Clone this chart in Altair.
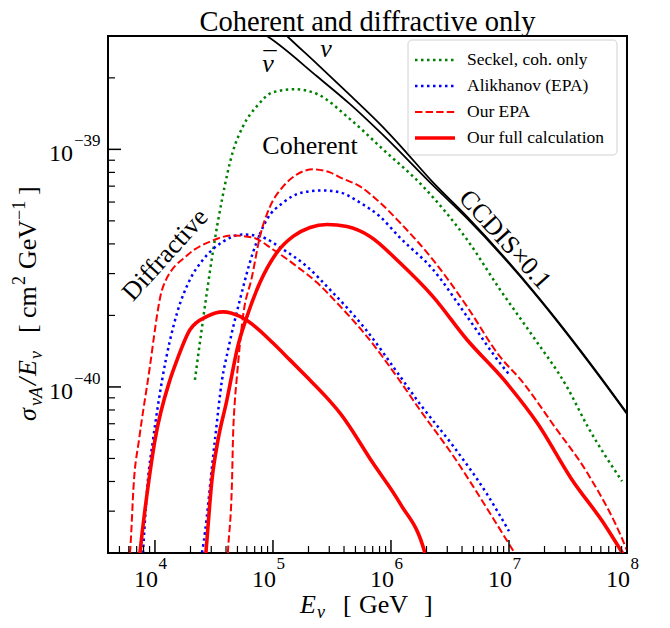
import altair as alt
import pandas as pd

W, H = 519, 517
SERIF = "Liberation Serif"

# ---------------- data (E in GeV, sigma/E in cm^2 GeV^-1) ----------------
ccdis_nu_E = [1.15e5, 1.315e5, 2.36e5, 4.50e5, 8.55e5, 1.19e6, 2.27e6, 4.41e6, 1.60e7, 5.90e7, 1.0e8]
ccdis_nu_s = [3.2e-39, 3.0e-39, 2.29e-39, 1.69e-39, 1.24e-39, 1.04e-39, 7.26e-40, 5.21e-40, 2.54e-40, 1.11e-40, 7.76e-41]

ccdis_nubar_E = [8.0e4, 8.89e4, 2.36e5, 4.50e5, 8.55e5, 2.27e6, 4.41e6, 1.60e7, 5.90e7, 1.0e8]
ccdis_nubar_s = [3.1e-39, 3.0e-39, 2.03e-39, 1.55e-39, 1.15e-39, 7.05e-40, 5.12e-40, 2.52e-40, 1.10e-40, 7.7e-41]

seckel_E = [2.18e4, 2.40e4, 2.76e4, 3.10e4, 3.70e4, 4.58e4, 5.57e4, 7.31e4, 1.0e5, 1.53e5, 2.36e5,
            4.50e5, 8.55e5, 1.87e6, 4.41e6, 8.39e6, 1.60e7, 3.10e7, 4.67e7, 9.08e7]
seckel_s = [1.07e-40, 1.53e-40, 2.52e-40, 3.72e-40, 6.15e-40, 9.81e-40, 1.25e-39, 1.52e-39, 1.74e-39, 1.79e-39,
            1.71e-39, 1.34e-39, 1.0e-39, 6.98e-40, 4.17e-40, 2.57e-40, 1.63e-40, 1.0e-40, 6.78e-41, 4.01e-41]

alik_diff_E = [7.91e3, 8.72e3, 9.62e3, 1.15e4, 1.54e4, 1.98e4, 2.55e4, 3.77e4, 5.57e4, 7.76e4, 1.22e5,
               1.94e5, 3.04e5, 6.26e5, 1.19e6, 1.76e6, 3.42e6, 6.51e6, 1.0e7]
alik_diff_s = [2.0e-41, 4.06e-41, 5.97e-41, 1.07e-40, 2.05e-40, 2.83e-40, 3.43e-40, 4.09e-40, 4.38e-40,
               4.30e-40, 3.79e-40, 3.21e-40, 2.57e-40, 1.72e-40, 1.11e-40, 8.48e-41, 5.58e-41, 3.54e-41, 2.47e-41]

alik_coh_E = [2.45e4, 2.5e4, 3.22e4, 3.70e4, 4.16e4, 5.25e4, 6.77e4, 8.89e4, 1.22e5, 1.79e5, 2.65e5,
              3.70e5, 5.46e5, 8.07e5, 1.19e6, 2.27e6, 4.41e6, 8.39e6, 1.0e7]
alik_coh_s = [1.9e-41, 2.0e-41, 5.97e-41, 1.07e-40, 1.43e-40, 2.33e-40, 3.68e-40, 5.07e-40, 5.97e-40, 6.59e-40,
              6.72e-40, 6.59e-40, 5.97e-40, 5.21e-40, 4.25e-40, 3.12e-40, 1.98e-40, 1.26e-40, 1.13e-40]

epa_diff_E = [6.0e3, 6.14e3, 6.64e3, 7.32e3, 8.72e3, 1.17e4, 1.91e4, 2.93e4, 4.58e4, 6.77e4, 1.0e5, 1.60e5,
              2.36e5, 3.48e5, 6.26e5, 1.19e6, 1.76e6, 3.42e6, 6.51e6, 1.15e7]
epa_diff_s = [1.8e-41, 2.0e-41, 4.06e-41, 5.97e-41, 1.07e-40, 2.64e-40, 3.61e-40, 4.09e-40, 4.34e-40, 4.25e-40,
              3.79e-40, 3.21e-40, 2.75e-40, 2.26e-40, 1.63e-40, 1.06e-40, 8.0e-41, 5.07e-41, 3.08e-41, 1.95e-41]

epa_coh_E = [4.1e4, 4.16e4, 4.50e4, 4.58e4, 4.76e4, 4.92e4, 5.57e4, 6.64e4, 7.76e4, 9.44e4, 1.22e5, 1.60e5,
             2.18e5, 3.04e5, 3.70e5, 5.46e5, 8.07e5, 1.19e6, 2.27e6, 4.41e6, 8.39e6, 1.26e7, 2.45e7, 4.67e7,
             9.62e7, 1.0e8]
epa_coh_s = [1.8e-41, 2.05e-41, 4.06e-41, 5.97e-41, 8.81e-41, 1.07e-40, 1.98e-40, 2.91e-40, 4.30e-40, 5.74e-40,
             6.98e-40, 7.85e-40, 8.24e-40, 8.0e-40, 7.62e-40, 6.98e-40, 5.97e-40, 4.92e-40, 3.43e-40, 2.18e-40,
             1.34e-40, 1.07e-40, 6.78e-41, 4.30e-41, 2.15e-41, 2.05e-41]

full_diff_E = [7.3e3, 7.46e3, 8.89e3, 1.0e4, 1.34e4, 1.54e4, 1.98e4, 2.76e4, 3.77e4, 5.25e4, 7.31e4, 1.0e5,
               1.39e5, 1.94e5, 2.87e5, 3.70e5, 7.03e5, 1.19e6, 1.94e6, 2.05e6]
full_diff_s = [1.8e-41, 2.0e-41, 4.06e-41, 5.97e-41, 1.07e-40, 1.30e-40, 1.74e-40, 1.98e-40, 2.07e-40, 1.98e-40,
               1.77e-40, 1.53e-40, 1.30e-40, 1.10e-40, 8.99e-41, 7.76e-41, 4.78e-41, 3.24e-41, 2.0e-41, 1.8e-41]

full_coh_E = [2.65e4, 2.70e4, 3.04e4, 3.42e4, 4.07e4, 4.40e4, 4.95e4, 6.02e4, 7.76e4, 1.08e5, 1.48e5, 2.06e5,
              2.87e5, 4.24e5, 6.64e5, 1.19e6, 2.27e6, 4.41e6, 9.08e6, 1.76e7, 3.35e7, 6.51e7, 9.44e7, 1.0e8]
full_coh_s = [1.8e-41, 2.0e-41, 4.06e-41, 5.97e-41, 8.81e-41, 1.07e-40, 1.43e-40, 1.98e-40, 2.75e-40, 3.68e-40,
              4.30e-40, 4.69e-40, 4.83e-40, 4.73e-40, 4.30e-40, 3.33e-40, 2.40e-40, 1.58e-40, 1.07e-40, 6.98e-41,
              4.13e-41, 2.62e-41, 1.95e-41, 1.86e-41]

legend_labels = ["Seckel, coh. only", "Alikhanov (EPA)", "Our EPA", "Our full calculation"]
x_tick_major = [1e4, 1e5, 1e6, 1e7, 1e8]
x_tick_exp = ["4", "5", "6", "7", "8"]
y_tick_major = [1e-40, 1e-39]
y_tick_exp = ["\u221240", "\u221239"]

# ---------------- build ----------------
curves = [
    ("ccdis_nu", "ccdis", ccdis_nu_E, ccdis_nu_s),
    ("ccdis_nubar", "ccdis", ccdis_nubar_E, ccdis_nubar_s),
    ("seckel", "seckel", seckel_E, seckel_s),
    ("alik_diff", "alik", alik_diff_E, alik_diff_s),
    ("alik_coh", "alik", alik_coh_E, alik_coh_s),
    ("epa_diff", "epa", epa_diff_E, epa_diff_s),
    ("epa_coh", "epa", epa_coh_E, epa_coh_s),
    ("full_diff", "full", full_diff_E, full_diff_s),
    ("full_coh", "full", full_coh_E, full_coh_s),
]
rows = []
for name, style, Es, ss in curves:
    for e, s in zip(Es, ss):
        rows.append({"E": e, "s": s, "curve": name, "style": style})
df = pd.DataFrame(rows)

xscale = alt.Scale(type="log", domain=[4e3, 1e8], nice=False)
yscale = alt.Scale(type="log", domain=[2e-41, 3e-39], nice=False)
X = lambda f: alt.X(f, scale=xscale, axis=None)
Y = lambda f: alt.Y(f, scale=yscale, axis=None)

DOT = [2.5, 3.5]
DASH = [7.4, 3.2]
style_def = {
    "ccdis": dict(color="black", strokeWidth=1.8),
    "seckel": dict(color="#008000", strokeWidth=2.5, strokeDash=DOT),
    "alik": dict(color="#0000ff", strokeWidth=2.5, strokeDash=DOT),
    "epa": dict(color="#ff0000", strokeWidth=2.0, strokeDash=DASH),
    "full": dict(color="#ff0000", strokeWidth=3.6),
}

layers = []
for st in ["ccdis", "seckel", "alik", "epa", "full"]:
    layers.append(
        alt.Chart(df).transform_filter(alt.datum.style == st)
        .mark_line(clip=True, interpolate="monotone", **style_def[st])
        .encode(x=X("E:Q"), y=Y("s:Q"), detail="curve:N")
    )

# inward ticks
x_tick_minor = [m * 10 ** k for k in range(3, 8) for m in range(2, 10) if 4e3 <= m * 10 ** k < 1e8]
y_tick_minor = [m * 10.0 ** k for k in (-41, -40, -39) for m in range(2, 10) if 2e-41 <= m * 10.0 ** k <= 3.01e-39]
layers.append(alt.Chart(pd.DataFrame({"v": x_tick_major})).mark_rule(color="black", strokeWidth=1.5)
              .encode(x=X("v:Q"), y=alt.value(H), y2=alt.value(H - 13)))
layers.append(alt.Chart(pd.DataFrame({"v": x_tick_minor})).mark_rule(color="black", strokeWidth=1.2)
              .encode(x=X("v:Q"), y=alt.value(H), y2=alt.value(H - 7)))
layers.append(alt.Chart(pd.DataFrame({"v": y_tick_major})).mark_rule(color="black", strokeWidth=1.5)
              .encode(y=Y("v:Q"), x=alt.value(0), x2=alt.value(13)))
layers.append(alt.Chart(pd.DataFrame({"v": y_tick_minor})).mark_rule(color="black", strokeWidth=1.2)
              .encode(y=Y("v:Q"), x=alt.value(0), x2=alt.value(7)))

# tick labels
xt = pd.DataFrame({"v": x_tick_major, "e": x_tick_exp, "b": ["10"] * 5})
layers.append(alt.Chart(xt).mark_text(font=SERIF, fontSize=24, align="right", baseline="alphabetic", dx=3, color="black")
              .encode(x=X("v:Q"), y=alt.value(H + 34), text="b:N"))
layers.append(alt.Chart(xt).mark_text(font=SERIF, fontSize=17, align="left", baseline="alphabetic", dx=3.5, color="black")
              .encode(x=X("v:Q"), y=alt.value(H + 16), text="e:N"))
yt = pd.DataFrame({"v": y_tick_major, "e": y_tick_exp, "b": ["10"] * 2})
layers.append(alt.Chart(yt).mark_text(font=SERIF, fontSize=24, align="right", baseline="alphabetic", dy=12, color="black")
              .encode(y=Y("v:Q"), x=alt.value(-35), text="b:N"))
layers.append(alt.Chart(yt).mark_text(font=SERIF, fontSize=17, align="left", baseline="alphabetic", dy=-3, dx=1, color="black")
              .encode(y=Y("v:Q"), x=alt.value(-35), text="e:N"))


def piece(text, x, y, dx=0, dy=0, size=26, italic=False, angle=0, align="left"):
    return (alt.Chart(alt.Data(values=[{"t": text}]))
            .mark_text(font=SERIF, fontSize=size, fontStyle="italic" if italic else "normal",
                       align=align, baseline="alphabetic", dx=dx, dy=dy, angle=angle, color="black")
            .encode(x=alt.value(x), y=alt.value(y), text="t:N"))


# title
layers.append(piece("Coherent and diffractive only", W / 2, -5, size=28.5, align="center"))

# x axis title
for t, dx, dy, sz, it in [("E", 0, 0, 26, True), ("\u03bd", 17, 5, 18, True),
                          ("[", 43, 0, 26, False), ("GeV", 59, 0, 26, False), ("]", 124, 0, 26, False)]:
    layers.append(piece(t, 192, H + 60, dx=dx, dy=dy, size=sz, italic=it))

# y axis title (rotated)
for t, dx, dy, sz, it in [("\u03c3", 0, 0, 26, True), ("\u03bdA", 15, 6, 18, True), ("/", 36, 0, 26, True),
                          ("E", 45, 0, 26, True), ("\u03bd", 62, 6, 18, True), ("[", 88, 0, 26, False),
                          ("cm", 103, 0, 26, False), ("2", 136, -11, 18, False), ("GeV", 152, 0, 26, False),
                          ("\u22121", 201, -11, 18, False), ("]", 226, 0, 26, False)]:
    layers.append(piece(t, -72, 385, dx=dx, dy=dy, size=sz, italic=it, angle=270))

# annotations in data coordinates
ann = [
    ("Coherent", 2.06e5, 1.03e-39, 0, False, 26, 0, 0),
    ("Diffractive", 1.22e4, 3.60e-40, 312, False, 26, 0, 0),
    ("CCDIS\u00d70.1", 9.25e6, 4.17e-40, 48, False, 26, 0, 0),
    ("\u03bd", 9.08e4, 2.29e-39, 0, True, 26, 0, 0),
    ("\u00af", 9.08e4, 2.29e-39, 0, False, 26, 2, -3),
    ("\u03bd", 2.81e5, 2.69e-39, 0, True, 26, 0, 2),
]
for t, e, s, ang, it, sz, ddx, ddy in ann:
    layers.append(alt.Chart(pd.DataFrame({"E": [e], "s": [s], "t": [t]}))
                  .mark_text(font=SERIF, fontSize=sz, fontStyle="italic" if it else "normal", angle=ang,
                             align="center", baseline="middle", dx=ddx, dy=ddy, color="black")
                  .encode(x=X("E:Q"), y=Y("s:Q"), text="t:N"))

# legend (manual)
layers.append(alt.Chart(alt.Data(values=[{}])).mark_rect(fill="white", stroke="#cccccc", strokeWidth=1,
                                                         cornerRadius=4, opacity=0.9)
              .encode(x=alt.value(300), x2=alt.value(509), y=alt.value(4), y2=alt.value(119)))
leg_styles = ["seckel", "alik", "epa", "full"]
for i, (lab, st) in enumerate(zip(legend_labels, leg_styles)):
    yy = 24 + 26 * i
    layers.append(alt.Chart(alt.Data(values=[{}])).mark_rule(**style_def[st])
                  .encode(x=alt.value(307), x2=alt.value(347), y=alt.value(yy)))
    layers.append(alt.Chart(alt.Data(values=[{"t": lab}]))
                  .mark_text(font=SERIF, fontSize=17.5, align="left", baseline="middle", color="black")
                  .encode(x=alt.value(359), y=alt.value(yy), text="t:N"))

chart = (alt.layer(*layers)
         .properties(width=W, height=H, background="white",
                     padding={"left": 100, "top": 28, "right": 30, "bottom": 70},
                     autosize=alt.AutoSizeParams(type="none"))
         .configure_view(stroke="black", strokeWidth=2))

chart.save("out.html", embed_options={"renderer": "svg", "actions": False})
